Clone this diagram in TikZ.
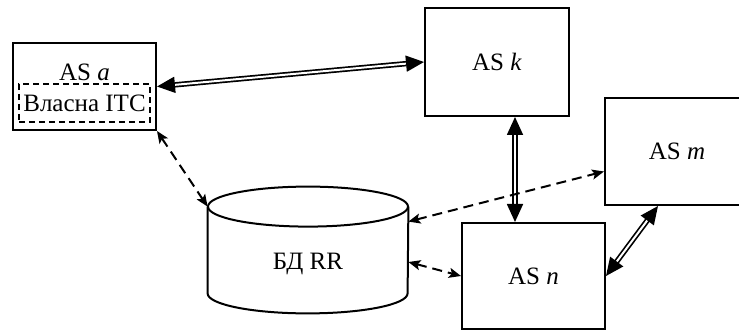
\documentclass[tikz,border=0pt]{standalone}
\usepackage{fontspec}
\setmainfont{Liberation Serif}
\usetikzlibrary{arrows.meta}
\begin{document}
\begin{tikzpicture}[%
                x=0.5pt, y=-0.5pt,
                font=\fontsize{12.5}{15}\selectfont,
                asbox/.style={draw, line width=1pt, inner sep=0pt},
                dblarrow/.style={double, line width=.85pt, double distance=1pt,
                    {Triangle[length=9pt,width=8pt]}-{Triangle[length=9pt,width=8pt]}},
                dasharrow/.style={line width=1pt, dash pattern=on 5pt off 3pt,
                    {Stealth[length=6pt,width=5pt,inset=1.3pt]}-{Stealth[length=6pt,width=5pt,inset=1.3pt]}}
            ]
            \useasboundingbox (0,0) rectangle (739,331);
            \node [asbox, minimum width=71.5pt, minimum height=43.5pt] (asa) at (84.5,86.5) {};
            \node [inner sep=0pt] (asalabel) at (84.5,72) {AS \textit{a}};
            \node [draw, line width=.7pt, dash pattern=on 3pt off 2pt, minimum width=65.5pt,
                minimum height=19pt, inner sep=0pt] (itc) at (84.5,103) {Власна ITC};
            \node [asbox, minimum width=72pt, minimum height=54pt] (ask) at (497,62) {AS \textit{k}};
            \node [asbox, minimum width=72pt, minimum height=53.5pt] (asm) at (677,151.5) {AS \textit{m}};
            \node [asbox, minimum width=71.5pt, minimum height=53pt] (asn) at (533.5,276) {AS \textit{n}};
            \node [minimum width=100pt, minimum height=63pt, inner sep=0pt] (db) at (308,250) {};
            \node (dblabel) at (308,264) {БД RR};
            % cylinder
            \draw [line width=1pt] ([yshift=-10pt]db.north west) -- ([yshift=10pt]db.south west)
                arc [start angle=180, end angle=360, x radius=50pt, y radius=10pt]
                -- ([yshift=-10pt]db.north east);
            \draw [line width=1pt] ([yshift=-10pt]db.north) ellipse [x radius=50pt, y radius=10pt];
            % links
            \draw [dblarrow] (asa.east) -- (ask.west);
            \draw [dblarrow] ([xshift=9pt]ask.south) -- ([xshift=9pt]ask.south |- asn.north);
            \draw [dblarrow] (asn.east) -- ([xshift=-9.5pt]asm.south);
            \draw [dasharrow] (asa.south east) -- ([yshift=-10pt]db.north west);
            \draw [dasharrow] ([yshift=-17.5pt]db.north east) -- ([yshift=-10pt]asm.west);
            \draw [dasharrow] ([yshift=-6pt]db.east) -- (asn.west);
        \end{tikzpicture}
\end{document}
